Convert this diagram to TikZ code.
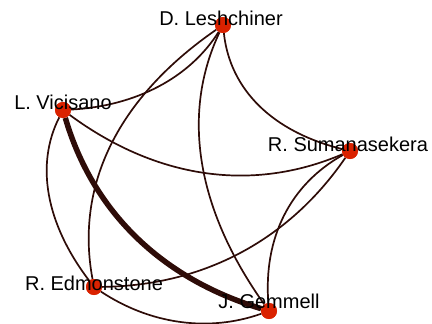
\documentclass[tikz,border=0pt]{standalone}
\usepackage{fontspec}
\setmainfont{Liberation Sans}
\usetikzlibrary{calc}
\definecolor{edgecol}{RGB}{46,12,8}
\definecolor{nodecol}{RGB}{218,34,0}
\newcommand\qedge[4][]{\draw[edgeline,#1] (#2) .. controls ($(#2)!0.6667!(#3)$) and ($(#4)!0.6667!(#3)$) .. (#4);}
\begin{document}
\begin{tikzpicture}[x=1pt,y=-1pt,
  vertex/.style={circle,fill=nodecol,draw=none,minimum size=16pt,inner sep=0pt},
  edgeline/.style={draw=edgecol,line width=1.7pt},
  thickedge/.style={line width=5.5pt},
  lbl/.style={anchor=base,inner sep=0pt,font=\fontsize{20}{24}\selectfont,text=black}]
\useasboundingbox (0,0) rectangle (432,324);
% vertices
\node[vertex] (D) at (223,25) {};
\node[vertex] (L) at (63,110) {};
\node[vertex] (S) at (350,151) {};
\node[vertex] (E) at (94,287) {};
\node[vertex] (G) at (269,311) {};
% bend points
\coordinate (qDL) at (173,104);
\coordinate (qDE) at (65.5,134);
\coordinate (qDG) at (160,158);
\coordinate (qDS) at (233.5,122);
\coordinate (qLS) at (203.5,213.5);
\coordinate (qLE) at (21.5,191.5);
\coordinate (qLG) at (107.6,262.3);
\coordinate (qSE) at (258,285);
\coordinate (qSG) at (260.5,201);
\coordinate (qEG) at (178.5,343);
% edges
\qedge{D}{qDL}{L}
\qedge{D}{qDE}{E}
\qedge{D}{qDG}{G}
\qedge{D}{qDS}{S}
\qedge{L}{qLS}{S}
\qedge{L}{qLE}{E}
\qedge[thickedge]{L}{qLG}{G}
\qedge{S}{qSE}{E}
\qedge{S}{qSG}{G}
\qedge{E}{qEG}{G}
% redraw vertices on top of edges
\node[vertex] at (D) {};
\node[vertex] at (L) {};
\node[vertex] at (S) {};
\node[vertex] at (E) {};
\node[vertex] at (G) {};
% labels
\node[lbl] (tD) at (221,25) {D. Leshchiner};
\node[lbl] (tL) at (63,110) {L. Vicisano};
\node[lbl] (tS) at (348,151) {R. Sumanasekera};
\node[lbl] (tE) at (94,290) {R. Edmonstone};
\node[lbl] (tG) at (269,308) {J. Gemmell};
\end{tikzpicture}
\end{document}
